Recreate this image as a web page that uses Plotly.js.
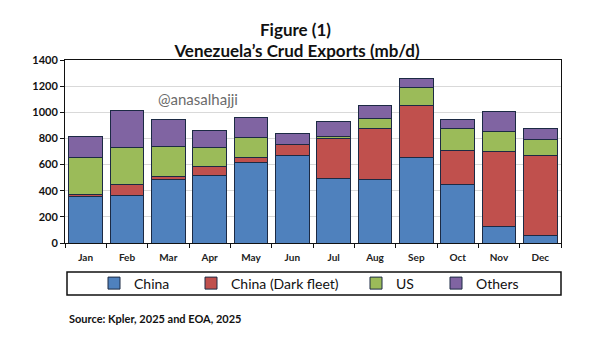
<!DOCTYPE html>
<html><head><meta charset="utf-8">
<script src="https://cdn.plot.ly/plotly-3.0.1.min.js"></script>
<style>html,body{margin:0;padding:0;background:#fff}</style>
</head><body><div id="chart" style="width:600px;height:355px"></div>
<script>
const months = ['Jan','Feb','Mar','Apr','May','Jun','Jul','Aug','Sep','Oct','Nov','Dec'];
const china = [355, 361, 489, 514, 616, 672, 494, 484, 657, 445, 127, 59];
const chinaDark = [15, 89, 17, 71, 41, 84, 305, 389, 392, 263, 570, 613];
const us = [285, 283, 232, 148, 152, 0, 12, 76, 140, 170, 156, 117];
const others = [160, 283, 209, 130, 153, 81, 115, 100, 66, 66, 155, 87];
const seriesNames = ['China', 'China (Dark fleet)', 'US', 'Others'];
const colors = ['#4f81bd', '#c0504d', '#9bbb59', '#8064a2'];

const W = 600, H = 355, L = 65, R = 39, T = 60, B = 112;
const pw = W - L - R, ph = H - T - B;
const px2x = p => (p - L) / pw;
const py2y = p => (H - B - p) / ph;

const FONT = 'Lato, "Liberation Sans", sans-serif';
const legendLefts = [94, 191, 356, 436];
const data = [china, chinaDark, us, others].map((vals, i) => ({
  type: 'bar', x: months, y: vals, name: seriesNames[i],
  marker: {color: colors[i], line: {color: '#1c2a44', width: 1}},
  legend: i === 0 ? 'legend' : 'legend' + (i + 1),
  hoverinfo: 'none'
}));

const legendBase = {
  orientation: 'h', y: py2y(283.5), yanchor: 'middle', xanchor: 'left',
  bgcolor: 'rgba(0,0,0,0)', borderwidth: 0,
  font: {family: FONT, size: 14, color: '#111'}
};
const layout = {
  width: W, height: H,
  margin: {l: L, r: R, t: T, b: B, pad: 0},
  paper_bgcolor: '#fff', plot_bgcolor: '#fff',
  barmode: 'stack', bargap: 0.18,
  showlegend: true,
  font: {family: FONT, color: '#111'},
  title: {text: '<b>Venezuela’s Crud Exports (mb/d)</b>', x: 0.495, xanchor: 'center',
    yref: 'container', y: 1 - 51 / H, yanchor: 'middle',
    font: {family: FONT, size: 17, color: '#111'}},
  xaxis: {
    type: 'category', tickson: 'boundaries', ticks: 'outside', ticklen: 4,
    tickcolor: '#111', showline: true, mirror: true, linecolor: '#111', linewidth: 1,
    ticklabelstandoff: 5,
    tickfont: {family: FONT, size: 10, color: '#222', weight: 'bold'}, showgrid: false
  },
  yaxis: {
    range: [0, 1400], dtick: 200, ticks: 'outside', ticklen: 4, tickcolor: '#111',
    showline: true, mirror: true, linecolor: '#111', linewidth: 1,
    gridcolor: '#d9d9d9', gridwidth: 1, zeroline: false,
    tickfont: {family: FONT, size: 11, color: '#111', weight: 'bold'}
  },
  legend: Object.assign({}, legendBase, {x: px2x(legendLefts[0])}),
  legend2: Object.assign({}, legendBase, {x: px2x(legendLefts[1])}),
  legend3: Object.assign({}, legendBase, {x: px2x(legendLefts[2])}),
  legend4: Object.assign({}, legendBase, {x: px2x(legendLefts[3])}),
  shapes: [{type: 'rect', xref: 'paper', yref: 'paper',
    x0: px2x(67), x1: px2x(561), y0: py2y(295), y1: py2y(272),
    line: {color: '#111', width: 1.5}, fillcolor: 'rgba(0,0,0,0)'}],
  annotations: [
    {text: '<b>Figure (1)</b>', xref: 'paper', yref: 'paper', x: px2x(295), y: py2y(29),
      xanchor: 'center', yanchor: 'middle', showarrow: false,
      font: {family: FONT, size: 17, color: '#111'}},
    {text: '@anasalhajji', xref: 'paper', yref: 'paper', x: px2x(198), y: py2y(99),
      xanchor: 'center', yanchor: 'middle', showarrow: false,
      font: {family: FONT, size: 15, color: '#6b6b6b'}},
    {text: '<b>Source: Kpler, 2025 and EOA, 2025</b>', xref: 'paper', yref: 'paper',
      x: px2x(67), y: py2y(318), xanchor: 'left', yanchor: 'middle', showarrow: false,
      font: {family: FONT, size: 11, color: '#111'}}
  ]
};
Plotly.newPlot('chart', data, layout, {staticPlot: true, displayModeBar: false});
</script></body></html>
